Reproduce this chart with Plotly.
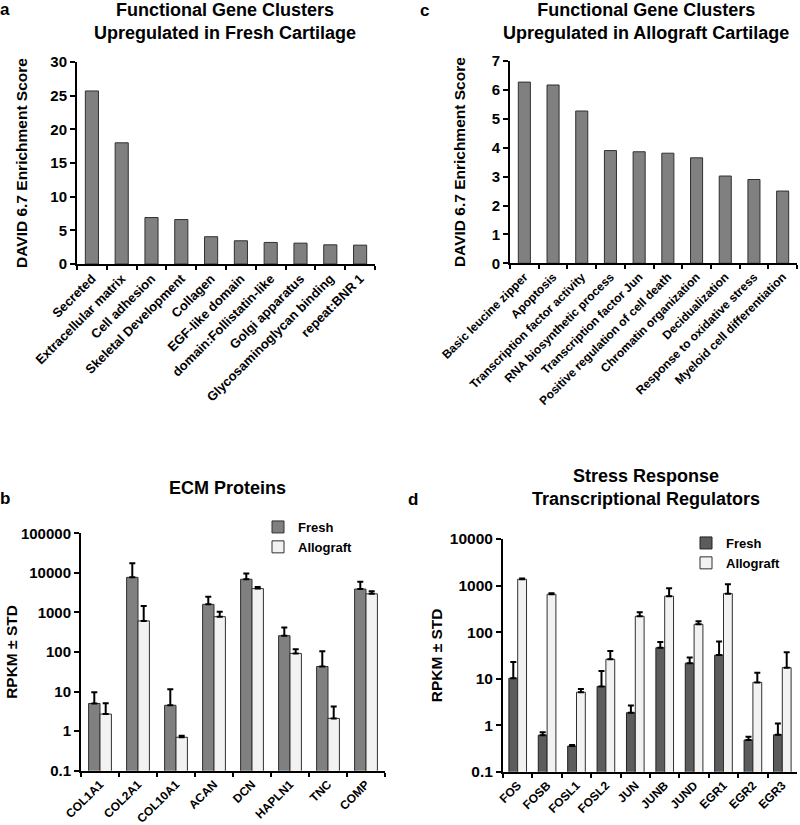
import plotly.graph_objects as go

# ---------------- data ----------------
a_categories = ["Secreted", "Extracellular matrix", "Cell adhesion", "Skeletal Development",
                "Collagen", "EGF-like domain", "domain:Follistatin-like", "Golgi apparatus",
                "Glycosaminoglycan binding", "repeat:BNR 1"]
a_scores = [25.7, 18.0, 6.9, 6.6, 4.05, 3.45, 3.2, 3.1, 2.85, 2.8]

c_categories = ["Basic leucine zipper", "Apoptosis", "Transcription factor activity",
                "RNA biosynthetic process", "Transcription factor Jun",
                "Positive regulation of cell death", "Chromatin organization",
                "Decidualization", "Response to oxidative stress", "Myeloid cell differentiation"]
c_scores = [6.27, 6.17, 5.27, 3.90, 3.86, 3.81, 3.65, 3.02, 2.90, 2.50]

b_genes = ["COL1A1", "COL2A1", "COL10A1", "ACAN", "DCN", "HAPLN1", "TNC", "COMP"]
b_fresh = [5.0, 7700, 4.5, 1600, 6900, 258, 43, 3900]
b_fresh_std = [4.6, 9700, 6.9, 900, 2800, 160, 62, 2100]
b_allo = [2.7, 610, 0.7, 780, 4000, 92, 2.1, 2950]
b_allo_std = [2.4, 840, 0.06, 260, 400, 26, 2.1, 500]

d_genes = ["FOS", "FOSB", "FOSL1", "FOSL2", "JUN", "JUNB", "JUND", "EGR1", "EGR2", "EGR3"]
d_fresh = [10.2, 0.61, 0.355, 6.8, 1.85, 46, 21.5, 32, 0.48, 0.62]
d_fresh_std = [12.5, 0.09, 0.02, 7.7, 0.8, 15, 7, 31, 0.085, 0.47]
d_allo = [1360, 650, 5.1, 26, 218, 590, 147, 670, 8.3, 17.2]
d_allo_std = [50, 30, 0.9, 13, 48, 280, 24, 395, 5, 19.6]

b_tickvals = [0.1, 1, 10, 100, 1000, 10000, 100000]
b_ticktext = ["0.1", "1", "10", "100", "1000", "10000", "100000"]
d_tickvals = [0.1, 1, 10, 100, 1000, 10000]
d_ticktext = ["0.1", "1", "10", "100", "1000", "10000"]

# ---------------- helpers ----------------
W, H = 800, 825
FONT = "Liberation Sans, Arial, sans-serif"

def xd(x0, x1):
    return [x0 / W, x1 / W]

def yd(top, bottom):
    return [1 - bottom / H, 1 - top / H]

def bold(size):
    return dict(family=FONT, size=size, color="black", weight="bold")

def up_err(vals):
    return dict(type="data", symmetric=False, array=vals, arrayminus=[0] * len(vals),
                color="black", thickness=2, width=3)

fig = go.Figure()

# a
fig.add_trace(go.Bar(x=a_categories, y=a_scores, width=0.44, marker=dict(color="#808080", line=dict(color="#303030", width=1)),
                     xaxis="x", yaxis="y", showlegend=False))
# c
fig.add_trace(go.Bar(x=c_categories, y=c_scores, width=0.42, marker=dict(color="#808080", line=dict(color="#303030", width=1)),
                     xaxis="x3", yaxis="y3", showlegend=False))
# b
fig.add_trace(go.Bar(x=b_genes, y=b_fresh, name="Fresh", error_y=up_err(b_fresh_std),
                     marker=dict(color="#808080", line=dict(color="#303030", width=1)),
                     xaxis="x2", yaxis="y2", legend="legend"))
fig.add_trace(go.Bar(x=b_genes, y=b_allo, name="Allograft", error_y=up_err(b_allo_std),
                     marker=dict(color="#f2f2f2", line=dict(color="#303030", width=1)),
                     xaxis="x2", yaxis="y2", legend="legend"))
# d
fig.add_trace(go.Bar(x=d_genes, y=d_fresh, name="Fresh", error_y=up_err(d_fresh_std),
                     marker=dict(color="#5c5c5c", line=dict(color="#202020", width=1)),
                     xaxis="x4", yaxis="y4", legend="legend2"))
fig.add_trace(go.Bar(x=d_genes, y=d_allo, name="Allograft", error_y=up_err(d_allo_std),
                     marker=dict(color="#f2f2f2", line=dict(color="#303030", width=1)),
                     xaxis="x4", yaxis="y4", legend="legend2"))

xcommon = dict(showline=True, linecolor="black", linewidth=2, ticks="outside", tickson="boundaries",
               ticklen=4, tickwidth=1.5, tickcolor="black", tickangle=-45, showgrid=False,
               automargin=False, zeroline=False)
ycommon = dict(showline=True, linecolor="black", linewidth=2, ticks="outside", ticklen=5,
               tickwidth=1.5, tickcolor="black", showgrid=False, automargin=False, zeroline=False)

fig.update_layout(
    width=W, height=H, margin=dict(l=0, r=0, t=0, b=0),
    paper_bgcolor="white", plot_bgcolor="white",
    barmode="group", bargap=0.4, bargroupgap=0,
    font=dict(family=FONT, color="black"),
    xaxis=dict(domain=xd(77, 375), anchor="y", tickfont=bold(13), **xcommon),
    yaxis=dict(domain=yd(62, 264), anchor="x", range=[0, 30], dtick=5, tickfont=bold(15),
               title=dict(text="DAVID 6.7 Enrichment Score", font=bold(15.5), standoff=19), **ycommon),
    xaxis3=dict(domain=xd(510, 797), anchor="y3", tickfont=bold(12), **xcommon),
    yaxis3=dict(domain=yd(61, 263.3), anchor="x3", range=[0, 7], dtick=1, tickfont=bold(15),
                title=dict(text="DAVID 6.7 Enrichment Score", font=bold(15.5), standoff=22), **ycommon),
    xaxis2=dict(domain=xd(81, 385), anchor="y2", tickfont=bold(12), **xcommon),
    yaxis2=dict(domain=yd(533.3, 770.7), anchor="x2", type="log", range=[-1, 5],
                tickvals=b_tickvals, ticktext=b_ticktext, tickfont=bold(15),
                title=dict(text="RPKM ± STD", font=bold(15.5), standoff=0), **ycommon),
    xaxis4=dict(domain=xd(503, 797), anchor="y4", tickfont=bold(12), **xcommon),
    yaxis4=dict(domain=yd(539, 771.7), anchor="x4", type="log", range=[-1, 4],
                tickvals=d_tickvals, ticktext=d_ticktext, tickfont=bold(15.5),
                title=dict(text="RPKM ± STD", font=bold(15.5), standoff=3), **ycommon),
    legend=dict(x=258 / W, y=1 - 512 / H, xanchor="left", yanchor="top", font=bold(13),
                bgcolor="rgba(0,0,0,0)", itemwidth=30, tracegroupgap=0),
    legend2=dict(x=686 / W, y=1 - 528 / H, xanchor="left", yanchor="top", font=bold(13),
                 bgcolor="rgba(0,0,0,0)", itemwidth=30, tracegroupgap=0),
)

annotations = [
    dict(text="a", x=5 / W, y=1 - 10 / H),
    dict(text="c", x=424 / W, y=1 - 11 / H),
    dict(text="b", x=5 / W, y=1 - 498 / H),
    dict(text="d", x=413 / W, y=1 - 499 / H),
]
for an in annotations:
    fig.add_annotation(xref="paper", yref="paper", x=an["x"], y=an["y"], text=an["text"],
                       showarrow=False, font=bold(17), xanchor="center", yanchor="middle")

titles = [
    ("Functional Gene Clusters<br>Upregulated in Fresh Cartilage", 225, 22),
    ("Functional Gene Clusters<br>Upregulated in Allograft Cartilage", 646, 21),
    ("ECM Proteins", 227, 488),
    ("Stress Response<br>Transcriptional Regulators", 646, 487),
]
for text, x, y in titles:
    fig.add_annotation(xref="paper", yref="paper", x=x / W, y=1 - y / H, text=text,
                       showarrow=False, font=bold(18), xanchor="center", yanchor="middle")

fig.write_html("out.html", config={"displayModeBar": False},
               post_script="document.body.style.margin='0';document.body.style.overflow='hidden';")
